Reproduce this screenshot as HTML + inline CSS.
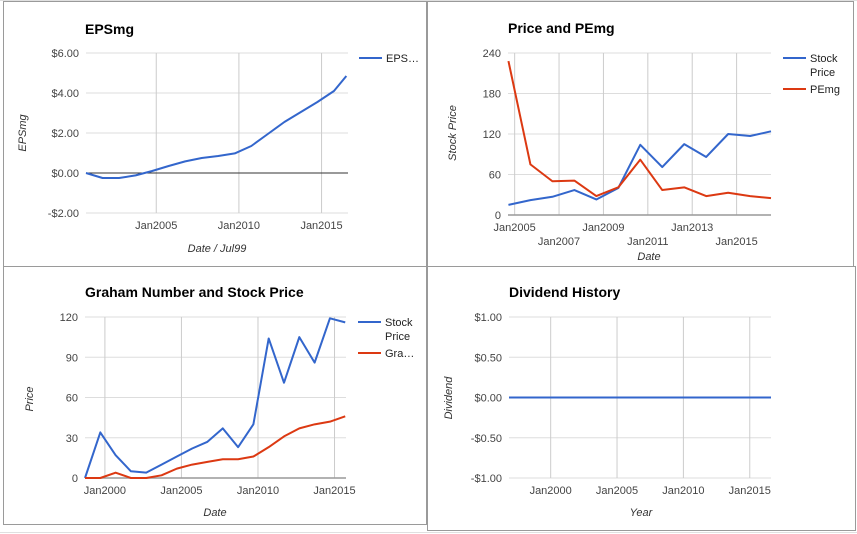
<!DOCTYPE html>
<html><head><meta charset="utf-8"><style>
html,body{margin:0;padding:0;background:#fff;}
svg{display:block;font-family:"Liberation Sans",Arial,sans-serif;}
</style></head><body>
<svg id="s" width="857" height="534" viewBox="0 0 857 534" xmlns="http://www.w3.org/2000/svg">
<rect x="0" y="0" width="857" height="534" fill="#fff"/>
<g stroke="#e0e0e0" stroke-width="1">
<line x1="0" y1="0.5" x2="857" y2="0.5"/><line x1="0" y1="532.5" x2="857" y2="532.5"/>
</g>
<rect x="3.5" y="1.5" width="423" height="265" fill="#fff" stroke="#9a9a9a"/>
<rect x="427.5" y="1.5" width="426" height="265" fill="#fff" stroke="#9a9a9a"/>
<rect x="3.5" y="266.5" width="423" height="258" fill="#fff" stroke="#9a9a9a"/>
<rect x="427.5" y="266.5" width="428" height="264" fill="#fff" stroke="#9a9a9a"/>
</svg>
<script>
// ---- data ----
const epsYears=[2000.75,2001.75,2002.75,2003.75,2004.75,2005.75,2006.75,2007.75,2008.75,2009.75,2010.75,2011.75,2012.75,2013.75,2014.75,2015.75,2016.5];
const epsValues=[0,-0.25,-0.25,-0.12,0.1,0.35,0.58,0.75,0.85,0.98,1.35,1.95,2.55,3.05,3.55,4.1,4.85];
const epsTicks=[-2,0,2,4,6];
const epsTickLabels=["-$2.00","$0.00","$2.00","$4.00","$6.00"];
const epsXTicks=[2005,2010,2015];

const ppYears=[2004.72,2005.71,2006.7,2007.69,2008.68,2009.67,2010.66,2011.65,2012.64,2013.63,2014.62,2015.61,2016.55];
const ppStock=[15,22,27,37,23,40,104,71,105,86,120,117,124];
const ppPEmg=[228,75,50,51,28,41,82,37,41,28,33,28,25];
const ppTicks=[0,60,120,180,240];
const ppXTicks=[2005,2007,2009,2011,2013,2015];

const gYears=[1998.7,1999.7,2000.7,2001.7,2002.7,2003.7,2004.7,2005.7,2006.7,2007.7,2008.7,2009.7,2010.7,2011.7,2012.7,2013.7,2014.7,2015.7];
const gStock=[0,34,17,5,4,10,16,22,27,37,23,40,104,71,105,86,119,116];
const gGraham=[0,0,4,0,0,2,7,10,12,14,14,16,23,31,37,40,42,46];
const gTicks=[0,30,60,90,120];
const gXTicks=[2000,2005,2010,2015];

const dYears=[1996.86,2016.6];
const dValues=[0,0];
const dTicks=[-1,-0.5,0,0.5,1];
const dTickLabels=["-$1.00","-$0.50","$0.00","$0.50","$1.00"];
const dXTicks=[2000,2005,2010,2015];

const svg=document.getElementById('s');
const NS='http://www.w3.org/2000/svg';
function mk(tag,attrs,parent){const e=document.createElementNS(NS,tag);for(const k in attrs)e.setAttribute(k,attrs[k]);(parent||svg).appendChild(e);return e;}
function txt(s,x,y,size,fill,anchor,extra,parent){const t=mk('text',Object.assign({x:x,y:y,'font-size':size,fill:fill,'text-anchor':anchor||'start'},extra||{}),parent);t.textContent=s;return t;}

function chart(cfg){
  const g=mk('g',{});
  
  
  const sx=v=>cfg.x0+(v-cfg.xmin)/(cfg.xmax-cfg.xmin)*(cfg.x1-cfg.x0);
  const sy=v=>cfg.y1-(v-cfg.ymin)/(cfg.ymax-cfg.ymin)*(cfg.y1-cfg.y0);
  cfg.yTicks.forEach((v,i)=>{
    const l=mk('line',{x1:cfg.x0,x2:cfg.x1,y1:sy(v),y2:sy(v),stroke:(v===cfg.ymin&&cfg.darkBase)?'#999':'#ddd','stroke-width':1},g);
    
    
    const t=txt(cfg.yLabels?cfg.yLabels[i]:String(v),cfg.x0-7,sy(v)+4,11,'#444','end',{},g);
    
    
  });
  cfg.xTicks.forEach((v,i)=>{
    const l=mk('line',{x1:sx(v),x2:sx(v),y1:cfg.y0,y2:cfg.y1,stroke:'#ccc','stroke-width':1},g);
    
    
    const row=cfg.twoRow?(i%2):0;
    const t=txt('Jan'+v,sx(v),cfg.y1+16+row*14,11,'#444','middle',{},g);
    
    
  });
  if(cfg.zeroLine){const z=mk('line',{x1:cfg.x0,x2:cfg.x1,y1:sy(0),y2:sy(0),stroke:'#333','stroke-width':1},g);
    
    }
  if(cfg.darkBase){const z=mk('line',{x1:cfg.x0,x2:cfg.x1,y1:sy(cfg.ymin),y2:sy(cfg.ymin),stroke:'#999','stroke-width':1.5},g);
    
    }
  cfg.series.forEach(s=>{
    const p=mk('polyline',{points:cfg.xs.map((x,i)=>sx(x)+','+sy(s.values[i])).join(' '),fill:'none',stroke:s.color,'stroke-width':2,'stroke-linejoin':'round'},g);
    
    
  });
  const t=txt(cfg.title,cfg.titleX,cfg.titleY,14,'#000','start',{'font-weight':'bold'},g);
  
  
  const xt=txt(cfg.xTitle,cfg.xTitleX,cfg.xTitleY,11,'#333','middle',{'font-style':'italic'},g);
  
  
  const yt=txt(cfg.yTitle,0,0,11,'#333','middle',{'font-style':'italic',transform:'translate('+cfg.yTitleX+','+cfg.yTitleY+') rotate(-90)'},g);
  
  
  cfg.legend.forEach(le=>{
    const lg=mk('g',{},g);
    
    
    mk('line',{x1:le.x,x2:le.x+23,y1:le.y,y2:le.y,stroke:le.color,'stroke-width':2},lg);
    le.lines.forEach((s,i)=>txt(s,le.x+27,le.y+4+i*14,11,'#222','start',{},lg));
  });
}

chart({name:'epsmg-chart',x0:86,x1:348,y0:53,y1:213,xmin:2000.75,xmax:2016.6,ymin:-2,ymax:6,
  yTicks:epsTicks,yLabels:epsTickLabels,xTicks:epsXTicks,zeroLine:true,xs:epsYears,
  series:[{name:'epsmg-line',values:epsValues,color:'#3366cc'}],
  title:'EPSmg',titleX:85,titleY:34,xTitle:'Date / Jul99',xTitleX:217,xTitleY:252,yTitle:'EPSmg',yTitleX:26,yTitleY:133,
  legend:[{x:359,y:58,color:'#3366cc',lines:['EPS…']}]});

chart({name:'price-pemg-chart',x0:508,x1:771,y0:53,y1:215,xmin:2004.7,xmax:2016.55,ymin:0,ymax:240,
  yTicks:ppTicks,xTicks:ppXTicks,twoRow:true,darkBase:true,xs:ppYears,
  series:[{name:'stock-price-line',values:ppStock,color:'#3366cc'},{name:'pemg-line',values:ppPEmg,color:'#dc3912'}],
  title:'Price and PEmg',titleX:508,titleY:33,xTitle:'Date',xTitleX:649,xTitleY:260,yTitle:'Stock Price',yTitleX:456,yTitleY:133,
  legend:[{x:783,y:58,color:'#3366cc',lines:['Stock','Price']},{x:783,y:89,color:'#dc3912',lines:['PEmg']}]});

chart({name:'graham-chart',x0:85,x1:346,y0:317,y1:478,xmin:1998.7,xmax:2015.75,ymin:0,ymax:120,
  yTicks:gTicks,xTicks:gXTicks,darkBase:true,xs:gYears,
  series:[{name:'stock-price-line',values:gStock,color:'#3366cc'},{name:'graham-number-line',values:gGraham,color:'#dc3912'}],
  title:'Graham Number and Stock Price',titleX:85,titleY:297,xTitle:'Date',xTitleX:215,xTitleY:516,yTitle:'Price',yTitleX:33,yTitleY:399,
  legend:[{x:358,y:322,color:'#3366cc',lines:['Stock','Price']},{x:358,y:353,color:'#dc3912',lines:['Gra…']}]});

chart({name:'dividend-chart',x0:509,x1:771,y0:317,y1:478,xmin:1996.86,xmax:2016.6,ymin:-1,ymax:1,
  yTicks:dTicks,yLabels:dTickLabels,xTicks:dXTicks,xs:dYears,
  series:[{name:'dividend-line',values:dValues,color:'#3366cc'}],
  title:'Dividend History',titleX:509,titleY:297,xTitle:'Year',xTitleX:641,xTitleY:516,yTitle:'Dividend',yTitleX:452,yTitleY:398,
  legend:[]});
</script>
</body></html>
